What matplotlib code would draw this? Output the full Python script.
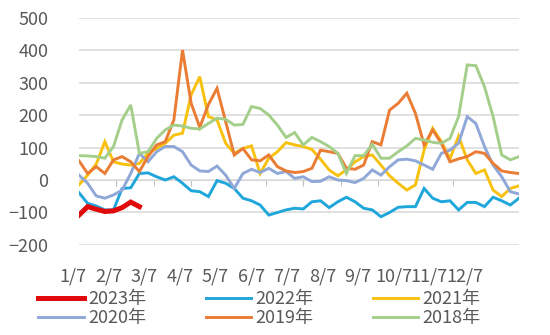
import matplotlib
matplotlib.use("Agg")
import matplotlib.pyplot as plt
import matplotlib.transforms as mtransforms
import numpy as np

plt.rcParams['font.family'] = ['Noto Sans CJK SC', 'DejaVu Sans']

# weekly data, 52 weeks
y2023 = [-108, -82, -90, -97, -95, -85, -68, -82]
y2022 = [-39, -72, -80, -92, -92, -26, -24, 20, 22, 10, 0, 10, -10, -33, -36,
         -51, -2, -10, -26, -56, -64, -77, -108, -100, -92, -87, -89, -67, -64,
         -85, -67, -53, -67, -87, -92, -113, -100, -84, -82, -82, -26, -56,
         -67, -64, -92, -69, -69, -82, -53, -64, -77, -56]
y2021 = [-15, 15, 49, 118, 56, 49, 46, 51, 82, 97, 113, 138, 144, 262, 318,
         195, 185, 113, 82, 97, 105, 20, 67, 87, 115, 108, 103, 94, 64,
         31, 13, 31, 56, 72, 77, 46, 13, -10, -31, -15, 92, 159,
         118, 65, 135, 62, 20, 31, -31, -51, -26, -18]
y2020 = [15, -10, -49, -56, -46, -31, 20, 82, 56, 87, 103, 103, 87, 46, 28,
         26, 43, 15, -26, 20, 33, 23, 36, 20, 26, 5, 10, -5, -4,
         10, 0, -2, -8, 5, 31, 15, 41, 62, 64, 59, 46, 33,
         82, 92, 113, 195, 174, 103, 46, 10, -36, -43]
y2019 = [59, 20, 41, 20, 62, 72, 56, 26, 72, 108, 118, 185, 400, 236, 162,
         232, 282, 180, 77, 97, 62, 59, 77, 41, 28, 23, 26, 36, 92,
         87, 82, 36, 33, 46, 118, 108, 215, 236, 267, 205, 108, 154,
         113, 56, 65, 72, 87, 82, 51, 28, 23, 20]
y2018 = [75, 74, 72, 67, 103, 185, 231, 82, 87, 128, 154, 169, 166, 159, 157,
         174, 190, 187, 169, 171, 226, 220, 200, 169, 131, 146, 108, 131, 118,
         103, 82, 20, 75, 75, 110, 67, 67, 87, 105, 128, 123, 116,
         113, 128, 195, 354, 352, 287, 195, 77, 62, 72]

series = [
    ('2023年', y2023, '#E00A0A', 3.6),
    ('2022年', y2022, '#1FA6DA', 2.1),
    ('2021年', y2021, '#F7C10E', 2.1),
    ('2020年', y2020, '#8FA8D8', 2.1),
    ('2019年', y2019, '#EB7C33', 2.1),
    ('2018年', y2018, '#A4CF8A', 2.1),
]
xlabels = ['1/7', '2/7', '3/7', '4/7', '5/7', '6/7', '7/7', '8/7', '9/7',
           '10/7', '11/7', '12/7']

fig = plt.figure(figsize=(5.5, 3.35), dpi=100)
ax = fig.add_axes([0.1436, 0.2687, 0.80, 0.679])

lines = {}
for i, (name, vals, col, lw) in enumerate(series):
    z = 10 if name == '2023年' else 3 + i
    ln, = ax.plot(np.arange(len(vals)), vals, color=col, lw=lw, label=name,
                  solid_joinstyle='miter', zorder=z)
    lines[name] = ln

ax.set_xlim(0, 51)
ax.set_ylim(-200, 500)
ax.set_yticks(range(-200, 501, 100))
ax.yaxis.grid(True, color='#D9D9D9', lw=1.1)
ax.set_axisbelow(True)
for s in ['top', 'right', 'left']:
    ax.spines[s].set_visible(False)
ax.spines['bottom'].set_position(('data', 0))
ax.spines['bottom'].set_color('#D9D9D9')
ax.tick_params(axis='y', length=0, pad=22, labelsize=13, labelcolor='#595959')
ax.set_xticks(np.arange(1, 12) * 52 / 12)
ax.tick_params(axis='x', direction='out', length=4, color='#BFBFBF',
               labelbottom=False)

trans = mtransforms.blended_transform_factory(ax.transData, ax.transAxes)
for i, lab in enumerate(xlabels):
    ax.text(-0.7 + 4.13 * i, -0.14, lab, transform=trans, ha='center',
            va='center', fontsize=13, color='#595959')

order = ['2023年', '2020年', '2022年', '2019年', '2021年', '2018年']
leg = fig.legend([lines[n] for n in order], order, ncol=3,
                 loc='center', bbox_to_anchor=(0.472, 0.078), frameon=False,
                 fontsize=13, handlelength=2.5, handletextpad=0.25,
                 columnspacing=3.3, labelspacing=0.05, labelcolor='#595959')

fig.savefig('out.png', dpi=100)
